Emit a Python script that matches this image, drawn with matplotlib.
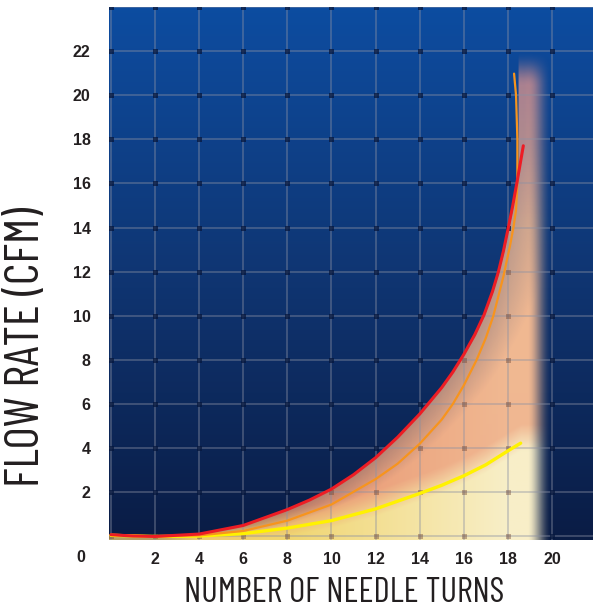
"""
Needle valve flow chart: flow rate (CFM) vs number of needle turns.
Writes out.png (593x613 px).
"""

import numpy as np
import matplotlib

matplotlib.use("Agg")
import matplotlib.pyplot as plt


# values (turns -> CFM)
red_turns = [0, 1, 2, 4, 6, 8, 9, 10, 11, 12, 13, 14, 15, 15.5, 16, 16.5, 16.92, 17.3, 17.57, 17.8, 18.02, 18.22, 18.42, 18.7]
red_cfm = [0.08, 0.02, 0.0, 0.11, 0.5, 1.22, 1.65, 2.15, 2.8, 3.57, 4.5, 5.55, 6.75, 7.45, 8.25, 9.15, 10.05, 11.1, 12.0, 12.95, 14.0, 15.0, 16.1, 17.71]

orange_turns = [0, 2, 4, 6, 8, 10, 12, 13, 14, 15, 15.5, 16, 16.58, 17.0, 17.34, 17.8, 18.1, 18.25, 18.37, 18.43, 18.43, 18.37, 18.28]
orange_cfm = [0.08, 0.0, 0.05, 0.25, 0.72, 1.45, 2.6, 3.3, 4.2, 5.3, 6.0, 6.85, 8.0, 9.0, 10.0, 11.8, 13.2, 14.0, 14.81, 16.0, 18.0, 20.0, 20.98]

yellow_turns = [0, 2, 4, 6, 8, 10, 12, 13, 14, 15, 16, 17, 18, 18.58]
yellow_cfm = [0.05, 0.0, 0.02, 0.13, 0.38, 0.72, 1.25, 1.6, 1.95, 2.32, 2.75, 3.25, 3.88, 4.23]

x_ticks = [2, 4, 6, 8, 10, 12, 14, 16, 18, 20]
y_ticks = [2, 4, 6, 8, 10, 12, 14, 16, 18, 20, 22]
grid_x = [0, 2, 4, 6, 8, 10, 12, 14, 16, 18, 20, 22]
grid_y = [0, 2, 4, 6, 8, 10, 12, 14, 16, 18, 20, 22, 24]

X_LIM = (-0.1, 21.86)
Y_LIM = (-0.16, 24.0)

TICK_FONT = ["Liberation Sans", "DejaVu Sans"]
TITLE_FONT = ["Barlow Condensed", "Archivo Narrow", "DejaVu Sans"]
TEXT_COLOR = "#231f20"
GRID_COLOR = (0.55, 0.57, 0.64)


def smoothstep(t):
    t = np.clip(t, 0.0, 1.0)
    return t * t * (3 - 2 * t)


def in_glow(x, y):
    x = np.asarray(x, dtype=float)
    y = np.asarray(y, dtype=float)
    return (y <= np.interp(x, red_turns, red_cfm)) | (x >= 18.45)


def draw_background(ax):
    stops = [Y_LIM[0], 12, Y_LIM[1]]
    cols = np.array([[0.04, 0.11, 0.27], [0.06, 0.21, 0.45], [0.05, 0.30, 0.63]])
    ys = np.linspace(*Y_LIM, 400)
    img = np.stack([np.interp(ys, stops, cols[:, i]) for i in range(3)], axis=-1)[:, None, :]
    ax.imshow(img, extent=[*X_LIM, *Y_LIM], origin="lower", aspect="auto",
              interpolation="bilinear", zorder=0)


def draw_glow(ax):
    # warm shaded area under the red curve, fading out to the right and top
    xs = np.linspace(*X_LIM, 900)
    ys = np.linspace(*Y_LIM, 980)
    X, Y = np.meshgrid(xs, ys)

    inside = in_glow(X, Y)
    left_edge = np.interp(Y, red_cfm[2:], red_turns[2:])
    yel = np.interp(X, yellow_turns, yellow_cfm)

    t = np.clip((Y - yel) / 1.2 + 0.3, 0, 1)[..., None]
    w = np.clip((X - 8) / 10, 0, 1)[..., None]
    u = np.clip((Y - 14) / 7, 0, 1)[..., None]

    yellow_a = np.array([0.97, 0.86, 0.45])
    yellow_b = np.array([1.0, 0.96, 0.80])
    peach_a = np.array([0.94, 0.60, 0.45])
    peach_b = np.array([0.97, 0.74, 0.58])
    rose = np.array([0.88, 0.58, 0.56])

    col = (yellow_a * (1 - w) + yellow_b * w) * (1 - t) + (peach_a * (1 - w) + peach_b * w) * t
    col = col * (1 - u) + rose * u

    alpha = 0.74 + 0.24 * np.clip((X - left_edge) / 2.0, 0, 1)
    alpha = alpha * (1 - smoothstep((X - 18.85) / 1.1))
    alpha = alpha * (1 - smoothstep((Y - 20.4) / 1.6))
    alpha = np.where(inside, alpha, 0.0)

    rgba = np.concatenate([col, alpha[..., None]], axis=-1)
    ax.imshow(rgba, extent=[*X_LIM, *Y_LIM], origin="lower", aspect="auto",
              interpolation="bilinear", zorder=1)


def fit_length(fig, txt, target_px, vertical=False):
    bb = txt.get_window_extent(fig.canvas.get_renderer())
    size = bb.height if vertical else bb.width
    txt.set_fontsize(txt.get_fontsize() * target_px / size)


def main():
    fig = plt.figure(figsize=(5.93, 6.13), dpi=100)
    ax = fig.add_axes([108.8 / 593, 73 / 613, (593 - 108.8) / 593, 533 / 613])
    ax.set_xlim(*X_LIM)
    ax.set_ylim(*Y_LIM)

    draw_background(ax)
    draw_glow(ax)

    for gxv in grid_x:
        ax.axvline(gxv, color=GRID_COLOR, alpha=0.5, lw=1.1, zorder=2)
    for gyv in grid_y:
        ax.axhline(gyv, color=GRID_COLOR, alpha=0.5, lw=1.1, zorder=2)

    # small squares at the grid crossings (dark on blue, brownish on the glow)
    gx, gy = np.meshgrid(grid_x, grid_y)
    gx, gy = gx.ravel(), gy.ravel()
    warm = in_glow(gx, gy) & (gx <= 19) & (gy <= 21)
    ax.plot(gx[~warm], gy[~warm], "s", color="#06173d", alpha=0.75, ms=3.6, mew=0, zorder=2.5)
    ax.plot(gx[warm], gy[warm], "s", color="#6b4030", alpha=0.4, ms=3.6, mew=0, zorder=2.5)

    ax.plot(yellow_turns, yellow_cfm, color="#fff200", lw=2.4, solid_capstyle="round",
            solid_joinstyle="round", zorder=4)
    ax.plot(orange_turns, orange_cfm, color="#f7941d", lw=1.6, solid_capstyle="round",
            solid_joinstyle="round", zorder=4)
    ax.plot(red_turns, red_cfm, color="#ed1c24", lw=2.2, solid_capstyle="round",
            solid_joinstyle="round", zorder=5)

    ax.set_xticks(x_ticks)
    ax.set_yticks(y_ticks)
    ax.tick_params(which="both", length=0)
    ax.tick_params(axis="x", pad=9)
    ax.tick_params(axis="y", pad=13)
    for lab in ax.get_xticklabels() + ax.get_yticklabels():
        lab.set_fontfamily(TICK_FONT)
        lab.set_fontweight("bold")
        lab.set_fontsize(11.5)
        lab.set_color(TEXT_COLOR)
    ax.annotate("0", xy=(0, 0), xytext=(-22, -15), textcoords="offset points",
                ha="center", va="center", fontsize=11.5, fontweight="bold",
                family=TICK_FONT, color=TEXT_COLOR, annotation_clip=False)

    for s in ax.spines.values():
        s.set_visible(False)

    xlab = fig.text(344 / 593, 1 - 593 / 613, "NUMBER OF NEEDLE TURNS", ha="center",
                    va="center", fontsize=28, fontweight="normal", family=TITLE_FONT,
                    color=TEXT_COLOR)
    ylab = fig.text(27.5 / 593, 1 - 347 / 613, "FLOW RATE (CFM)", ha="center", va="center",
                    rotation=90, fontsize=28, fontweight="normal", family=TITLE_FONT,
                    color=TEXT_COLOR)
    fit_length(fig, xlab, 320)
    fit_length(fig, ylab, 280, vertical=True)

    fig.savefig("out.png", dpi=100)
    plt.close(fig)


if __name__ == "__main__":
    main()
